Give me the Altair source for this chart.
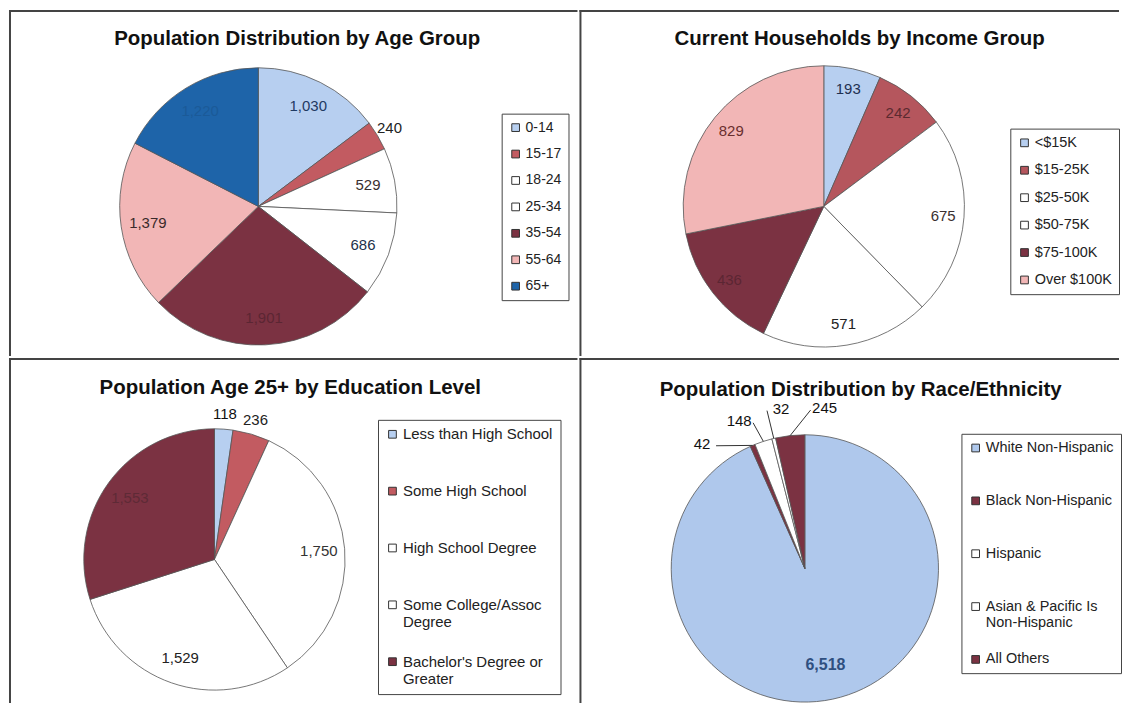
import json
import altair as alt
import pandas as pd

FONT = "Liberation Sans"

# ---------------- data ----------------
titles = [
    "Population Distribution by Age Group",
    "Current Households by Income Group",
    "Population Age 25+ by Education Level",
    "Population Distribution by Race/Ethnicity",
]

age_groups = ["0-14", "15-17", "18-24", "25-34", "35-54", "55-64", "65+"]
age_values = [1030, 240, 529, 686, 1901, 1379, 1220]

income_groups = ["<$15K", "$15-25K", "$25-50K", "$50-75K", "$75-100K", "Over $100K"]
income_values = [193, 242, 675, 571, 436, 829]

edu_levels = ["Less than High School", "Some High School", "High School Degree",
              "Some College/Assoc Degree", "Bachelor's Degree or Greater"]
edu_values = [118, 236, 1750, 1529, 1553]

race_groups = ["White Non-Hispanic", "Black Non-Hispanic", "Hispanic",
               "Asian & Pacific Is Non-Hispanic", "All Others"]
race_values = [6518, 42, 148, 32, 245]

# legend label line breaks
label_wraps = {
    "Some College/Assoc Degree": ["Some College/Assoc", "Degree"],
    "Bachelor's Degree or Greater": ["Bachelor's Degree or", "Greater"],
    "Asian & Pacific Is Non-Hispanic": ["Asian & Pacific Is", "Non-Hispanic"],
}

# ---------------- styles ----------------
LBLUE = "#b7cff0"
RED = "#c25b61"
WHITE = "#ffffff"
MAROON = "#7b3242"
PINK = "#f2b6b6"
BLUE = "#1e64a9"

age_colors = [LBLUE, RED, WHITE, WHITE, MAROON, PINK, BLUE]
age_text = ["#1f3a62", "#222222", "#3a3030", "#22304a", "#5b2633", "#3a2a2a", "#1b5a98"]
income_colors = [LBLUE, "#b5565d", WHITE, WHITE, MAROON, PINK]
income_text = ["#1f3050", "#5c2a30", "#3a3030", "#222222", "#5b2633", "#6a2f2f"]
edu_colors = [LBLUE, RED, WHITE, WHITE, MAROON]
edu_text = ["#111111", "#222222", "#333333", "#222222", "#5e2a36"]
race_colors = ["#afc8ec", MAROON, WHITE, WHITE, MAROON]
race_text = ["#2e4f80", "#111111", "#111111", "#111111", "#111111"]

THRESH = 0.05
BORDER = "#444444"


def wrap_expr(cats):
    parts = []
    for c in cats:
        if c in label_wraps:
            parts.append(f"datum.label == {json.dumps(c)} ? {json.dumps(label_wraps[c])} : ")
    return "".join(parts) + "datum.label"


def pie_panel(title, cats, vals, colors, tcolors, W, H, cx, cy, r, r_in, r_out,
              tx, ty, lgx, lgy, row_pad, label_size=14.5, inner_bold=False,
              race_style=False, grid_all=False):
    df = pd.DataFrame({"cat": cats, "value": vals, "idx": list(range(len(cats)))})
    base = alt.Chart(df)
    lkw = dict(
        orient="none", legendX=lgx, legendY=lgy, title=None,
        symbolType="square", symbolSize=60, symbolStrokeColor="#333333",
        symbolStrokeWidth=1, labelFont=FONT, labelFontSize=label_size,
        labelColor="#222222", strokeColor="#444444", padding=7,
        rowPadding=row_pad, labelOffset=3, labelLimit=400,
        labelExpr=wrap_expr(cats),
    )
    if grid_all:
        lkw["gridAlign"] = "all"
    legend = alt.Legend(**lkw)
    arc = base.mark_arc(radius=r, stroke="#555555", strokeWidth=0.8).encode(
        theta=alt.Theta("value:Q", stack=True),
        color=alt.Color("cat:N", scale=alt.Scale(domain=cats, range=colors),
                        sort=cats, legend=legend),
        order=alt.Order("idx:Q", sort="ascending"),
        x=alt.value(cx), y=alt.value(cy),
    )
    fill = alt.Fill("cat:N", scale=alt.Scale(domain=cats, range=tcolors), legend=None)

    stacked = base.transform_joinaggregate(total="sum(value)").transform_stack(
        stack="value", as_=["v0", "v1"], groupby=[],
        sort=[alt.SortField("idx", order="ascending")]
    ).transform_calculate(
        mid="(datum.v0 + datum.v1) / 2"
    ).transform_calculate(
        frac="datum.value / datum.total"
    )

    def label_layer(cond, rad, **mk):
        return stacked.transform_filter(cond).mark_text(
            font=FONT, radius=rad, **mk).encode(
            theta=alt.Theta("mid:Q", stack=False),
            text=alt.Text("value:Q", format=","),
            fill=fill,
            x=alt.value(cx), y=alt.value(cy),
        )

    inner = label_layer(f"datum.frac >= {THRESH}", r_in,
                        fontSize=16 if inner_bold else 15,
                        fontWeight="bold" if inner_bold else "normal")
    layers = [arc, inner]
    if not race_style:
        layers.append(label_layer(f"datum.frac < {THRESH}", r_out, fontSize=15))

    tdf = pd.DataFrame({"t": [title]})
    ttl = alt.Chart(tdf).mark_text(font=FONT, fontSize=20.5, fontWeight="bold",
                                   color="#111111").encode(
        text="t:N", x=alt.value(tx), y=alt.value(ty))
    layers.append(ttl)

    # panel frame: top and left edges
    top_edge = alt.Chart(tdf).mark_rule(color=BORDER, strokeWidth=2).encode(
        x=alt.value(0), x2=alt.value(W), y=alt.value(1))
    left_edge = alt.Chart(tdf).mark_rule(color=BORDER, strokeWidth=2).encode(
        x=alt.value(1), y=alt.value(0), y2=alt.value(H))
    layers += [top_edge, left_edge]

    if race_style:
        RL = 162
        a0, step = -39.5, 15.5
        small = base.transform_joinaggregate(total="sum(value)").transform_window(
            cum="sum(value)", sort=[alt.SortField("idx")], frame=[None, 0]
        ).transform_calculate(
            mid="(datum.cum - datum.value / 2) / datum.total * 2 * PI"
        ).transform_calculate(
            frac="datum.value / datum.total"
        ).transform_filter(f"datum.frac < {THRESH}").transform_window(
            window=[alt.WindowFieldDef(op="row_number", **{"as": "rank"})],
            sort=[alt.SortField("idx")]
        ).transform_calculate(
            la=f"({a0} + {step} * (datum.rank - 1)) * PI / 180"
        ).transform_calculate(
            lx=f"{RL} * sin(datum.la)"
        ).transform_calculate(
            ly=f"{RL} * cos(datum.la)"
        ).transform_calculate(
            ex=f"{r} * sin(datum.mid)"
        ).transform_calculate(
            ey=f"{r} * cos(datum.mid)"
        ).transform_calculate(
            qx="datum.lx + (datum.lx < datum.ex ? 14 : -14)"
        ).transform_calculate(
            qy="datum.ly - 2"
        )
        xs = alt.Scale(domain=[-cx, W - cx], nice=False, zero=False)
        ys = alt.Scale(domain=[cy - H, cy], nice=False, zero=False)
        lead = small.mark_rule(color="#333333", strokeWidth=1).encode(
            x=alt.X("ex:Q", scale=xs, axis=None),
            y=alt.Y("ey:Q", scale=ys, axis=None),
            x2="qx:Q", y2="qy:Q",
        )
        stext = small.mark_text(font=FONT, fontSize=15, color="#111111").encode(
            x=alt.X("lx:Q", scale=xs, axis=None),
            y=alt.Y("ly:Q", scale=ys, axis=None),
            text=alt.Text("value:Q", format=","),
        )
        layers += [lead, stext]

    return alt.layer(*layers).properties(width=W, height=H).resolve_scale(
        color="independent", fill="independent")


W1, W2 = 570, 541
H1, H2 = 347, 346

p1 = pie_panel(titles[0], age_groups, age_values, age_colors, age_text,
               W1, H1, cx=250, cy=197, r=139, r_in=112, r_out=153,
               tx=289, ty=29, lgx=494, lgy=104, row_pad=12.5, label_size=14)
p2 = pie_panel(titles[1], income_groups, income_values, income_colors, income_text,
               W2, H1, cx=245, cy=197, r=141, r_in=120, r_out=155,
               tx=281, ty=29, lgx=432, lgy=119, row_pad=12.5, label_size=14.5)
p3 = pie_panel(titles[2], edu_levels, edu_values, edu_colors, edu_text,
               W1, H2, cx=206, cy=202, r=131, r_in=105, r_out=146,
               tx=282, ty=30, lgx=370, lgy=62, row_pad=24, label_size=15,
               grid_all=True)
p4 = pie_panel(titles[3], race_groups, race_values, race_colors, race_text,
               W2, H2, cx=226, cy=211, r=134, r_in=99, r_out=160,
               tx=282, ty=32, lgx=383, lgy=76, row_pad=21, label_size=14.5,
               inner_bold=True, race_style=True, grid_all=True)

top = alt.hconcat(p1, p2, spacing=0)
bottom = alt.hconcat(p3, p4, spacing=0)
chart = alt.vconcat(top, bottom, spacing=0).resolve_scale(
    color="independent", fill="independent", theta="independent",
    x="independent", y="independent"
).properties(padding=0, background="white").configure_view(
    strokeOpacity=0
)

chart.save("out.html", embed_options={"renderer": "svg", "actions": False})
